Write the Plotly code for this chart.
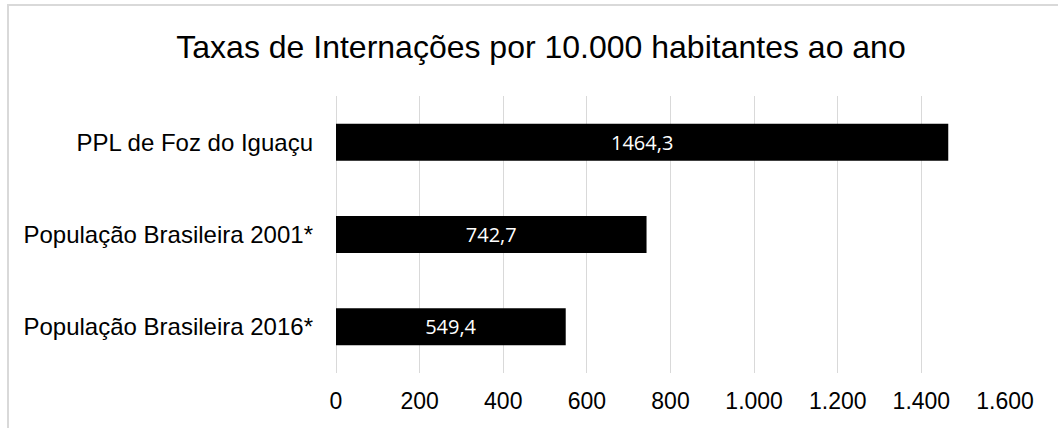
import plotly.graph_objects as go

categories = ["PPL de Foz do Iguaçu", "População Brasileira 2001*", "População Brasileira 2016*"]
values = [1464.3, 742.7, 549.4]
tick_vals = [0, 200, 400, 600, 800, 1000, 1200, 1400, 1600]

title_text = "Taxas de Internações por 10.000 habitantes ao ano"

W, H = 1058, 428
L, R, T, B = 336, 53, 96, 55
pw, ph = W - L - R, H - T - B

fig = go.Figure()
fig.add_trace(go.Bar(
    x=values, y=categories, orientation="h",
    marker=dict(color="#000000", line=dict(width=0)),
    texttemplate="%{x:.1f}", textposition="inside", insidetextanchor="middle",
    textfont=dict(family="Open Sans", size=20, color="#ffffff"),
    constraintext="none",
    hoverinfo="skip",
))

# outer chart frame (cropped at right and bottom)
fx0 = (8 - L) / pw
fy1 = (H - B - 5) / ph
fig.add_shape(type="rect", xref="paper", yref="paper",
              x0=fx0, x1=1.5, y0=-1.0, y1=fy1,
              line=dict(color="#d9d9d9", width=2), fillcolor="rgba(0,0,0,0)", layer="below")

fig.update_layout(
    width=W, height=H,
    margin=dict(l=L, r=R, t=T, b=B, pad=0),
    paper_bgcolor="#ffffff", plot_bgcolor="#ffffff",
    separators=",.",
    bargap=0.6,
    showlegend=False,
    title=dict(text=title_text, x=541 / W, xref="container", xanchor="center",
               y=1 - 47 / H, yref="container", yanchor="middle",
               font=dict(family="Liberation Sans, Arial", size=32, color="#000000")),
    font=dict(family="Liberation Sans, Arial", color="#000000"),
    xaxis=dict(range=[0, 1600], tickvals=tick_vals, tickformat=",d",
               showgrid=True, gridcolor="#d9d9d9", gridwidth=1,
               zeroline=True, zerolinecolor="#d9d9d9", zerolinewidth=1,
               showline=False, ticks="", ticklabelstandoff=12,
               tickfont=dict(size=23, color="#000000")),
    yaxis=dict(autorange="reversed", showgrid=False, zeroline=False, showline=False,
               ticks="", ticklabelstandoff=22,
               tickfont=dict(size=24, color="#000000")),
)

fig.write_html("out.html", config={"displayModeBar": False},
               post_script="document.body.style.margin='0';document.body.style.overflow='hidden';")
